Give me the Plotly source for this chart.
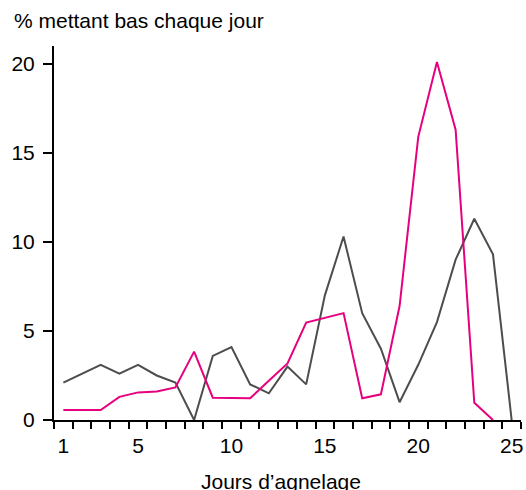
import plotly.graph_objects as go

days = list(range(1, 26))
gray_vals = [2.1, 2.6, 3.1, 2.6, 3.1, 2.5, 2.1, 0.0, 3.6, 4.1, 2.0, 1.5, 3.0, 2.0, 7.0, 10.3, 6.0, 4.0, 1.0, 3.1, 5.5, 9.0, 11.3, 9.3, 0.0]
pink_days = list(range(1, 25))
pink_vals = [0.56, 0.56, 0.56, 1.3, 1.55, 1.6, 1.83, 3.84, 1.25, 1.24, 1.22, 2.2, 3.18, 5.47, 5.73, 6.0, 1.22, 1.44, 6.4, 15.9, 20.1, 16.3, 0.97, 0.0]

x_tick_vals = [1, 5, 10, 15, 20, 25]
y_tick_vals = [0, 5, 10, 15, 20]

FONT = "Liberation Sans, Arial, sans-serif"
FS = 21

fig = go.Figure()
fig.add_trace(go.Scatter(x=days, y=gray_vals, mode="lines",
                         line=dict(color="#4d4d4d", width=2), showlegend=False))
fig.add_trace(go.Scatter(x=pink_days, y=pink_vals, mode="lines",
                         line=dict(color="#e6007e", width=2), showlegend=False))

fig.update_layout(
    width=526, height=490,
    margin=dict(l=54, r=5, t=46, b=70),
    paper_bgcolor="white", plot_bgcolor="white",
    font=dict(family=FONT, size=FS, color="black"),
    xaxis=dict(range=[0.5, 25.5], tickmode="array", tickvals=x_tick_vals,
               ticks="", showgrid=False, zeroline=False, automargin=False,
               ticklabeloverflow="allow",
               showline=True, linecolor="black", linewidth=2,
               ticklabelstandoff=6,
               minor=dict(tickmode="linear", tick0=0.5, dtick=1, ticks="outside",
                          ticklen=7, tickwidth=2, tickcolor="black", showgrid=False)),
    yaxis=dict(range=[0, 21], tickmode="array", tickvals=y_tick_vals,
               ticks="outside", ticklen=9, tickwidth=2, tickcolor="black",
               showgrid=False, zeroline=False, automargin=False,
               ticklabelstandoff=4,
               showline=True, linecolor="black", linewidth=2),
    annotations=[
        dict(text="% mettant bas chaque jour", x=0, y=1, xref="paper", yref="paper",
             xanchor="left", yanchor="middle", xshift=12-54, yshift=46-20, showarrow=False,
             font=dict(family=FONT, size=FS, color="black")),
        dict(text="Jours d’agnelage", x=(281-54)/467, y=0, xref="paper", yref="paper",
             xanchor="center", yanchor="middle", yshift=-61, showarrow=False,
             font=dict(family=FONT, size=FS, color="black")),
    ],
)

fig.write_html("out.html", config={"displayModeBar": False},
               post_script="document.body.style.margin='0';document.body.style.overflow='hidden';")
